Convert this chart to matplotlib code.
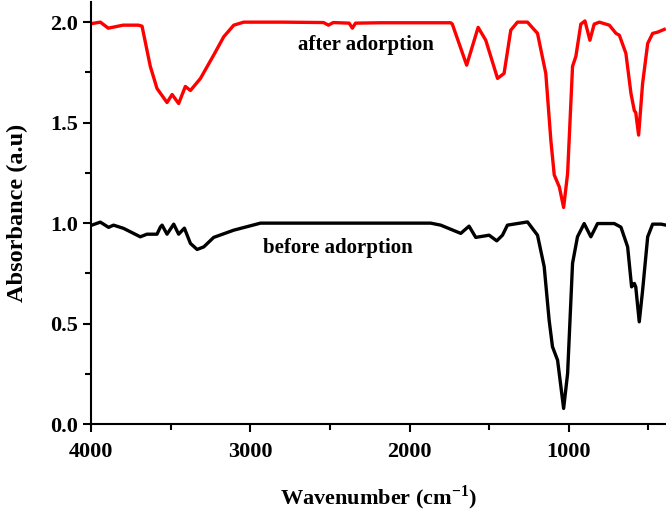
import matplotlib.pyplot as plt
from matplotlib.ticker import MultipleLocator

# data (wavenumber in cm-1, absorbance)
wn_after = [3996, 3943, 3893, 3800, 3704, 3681, 3629, 3587, 3524, 3492, 3451, 3409,
            3377, 3314, 3231, 3168, 3105, 3042, 2800, 2541, 2510, 2480, 2380, 2360,
            2340, 2182, 1742, 1732, 1642, 1570, 1522, 1448, 1407, 1365, 1323, 1260,
            1197, 1145, 1113, 1092, 1060, 1033, 1008, 977, 956, 925, 899, 868, 841,
            809, 746, 704, 683, 642, 610, 589, 580, 562, 537, 505, 474, 443, 401]
abs_after = [1.993, 2.0, 1.97, 1.985, 1.985, 1.98, 1.78, 1.67, 1.60, 1.64, 1.595, 1.68,
             1.66, 1.72, 1.836, 1.927, 1.985, 2.0, 2.0, 1.998, 1.985, 1.998, 1.995, 1.97,
             1.995, 1.997, 1.997, 1.99, 1.786, 1.974, 1.91, 1.72, 1.745, 1.96, 2.0, 2.0,
             1.944, 1.745, 1.41, 1.24, 1.18, 1.078, 1.247, 1.78, 1.83, 1.99, 2.006, 1.91,
             1.99, 2.0, 1.985, 1.944, 1.935, 1.845, 1.645, 1.56, 1.55, 1.438, 1.695,
             1.894, 1.944, 1.95, 1.964]

wn_before = [3996, 3943, 3891, 3860, 3797, 3692, 3650, 3587, 3566, 3555, 3524, 3482,
             3451, 3415, 3377, 3335, 3293, 3231, 3105, 2937, 2182, 1868, 1805, 1679,
             1627, 1585, 1501, 1453, 1417, 1386, 1323, 1260, 1197, 1155, 1124, 1103,
             1071, 1033, 1008, 977, 946, 904, 862, 820, 715, 673, 631, 606, 589, 580,
             558, 537, 505, 474, 421, 390]
abs_before = [0.99, 1.005, 0.979, 0.99, 0.974, 0.932, 0.945, 0.945, 0.98, 0.99, 0.945, 0.995,
              0.945, 0.975, 0.899, 0.869, 0.882, 0.929, 0.965, 1.0, 1.0, 1.0, 0.99, 0.949,
              0.985, 0.929, 0.94, 0.912, 0.94, 0.99, 0.998, 1.006, 0.94, 0.783, 0.517, 0.385,
              0.318, 0.078, 0.252, 0.8, 0.932, 0.998, 0.932, 0.998, 0.998, 0.98, 0.882, 0.683,
              0.70, 0.683, 0.509, 0.665, 0.932, 0.995, 0.995, 0.99]

plt.rcParams['font.family'] = ['Liberation Serif', 'DejaVu Serif']
plt.rcParams['font.weight'] = 'bold'
plt.rcParams['mathtext.fontset'] = 'custom'
plt.rcParams['mathtext.bf'] = 'Liberation Serif:bold'

fig = plt.figure(figsize=(6.66, 5.11), dpi=100)
ax = fig.add_axes([0.137, 0.170, 0.863, 0.826])

ax.plot(wn_after, abs_after, color='#ff0000', lw=2.4)
ax.plot(wn_before, abs_before, color='black', lw=2.4)

ax.text(2277, 1.886, 'after adorption', fontsize=15, fontweight='bold', ha='center', va='center')
ax.text(2450, 0.876, 'before adorption', fontsize=15, fontweight='bold', ha='center', va='center')

ax.set_xlim(4000, 390)
ax.set_ylim(0, 2.1)
ax.xaxis.set_major_locator(MultipleLocator(1000))
ax.xaxis.set_minor_locator(MultipleLocator(500))
ax.yaxis.set_major_locator(MultipleLocator(0.5))
ax.yaxis.set_minor_locator(MultipleLocator(0.25))
ax.tick_params(which='major', direction='out', length=6, width=1.5, labelsize=16)
ax.tick_params(which='minor', direction='out', length=4, width=1.5)
ax.tick_params(axis='x', which='major', pad=7)
for lab in ax.get_xticklabels() + ax.get_yticklabels():
    lab.set_fontweight('bold')

ax.spines['top'].set_visible(False)
ax.spines['right'].set_visible(False)
ax.spines['left'].set_linewidth(1.5)
ax.spines['bottom'].set_linewidth(1.5)

ax.set_xlabel('Wavenumber (cm$^{\\mathbf{-1}}$)', fontsize=16, fontweight='bold', labelpad=15)
ax.set_ylabel('Absorbance (a.u)', fontsize=17.5, fontweight='bold', labelpad=16)

fig.savefig('out.png', dpi=100)
